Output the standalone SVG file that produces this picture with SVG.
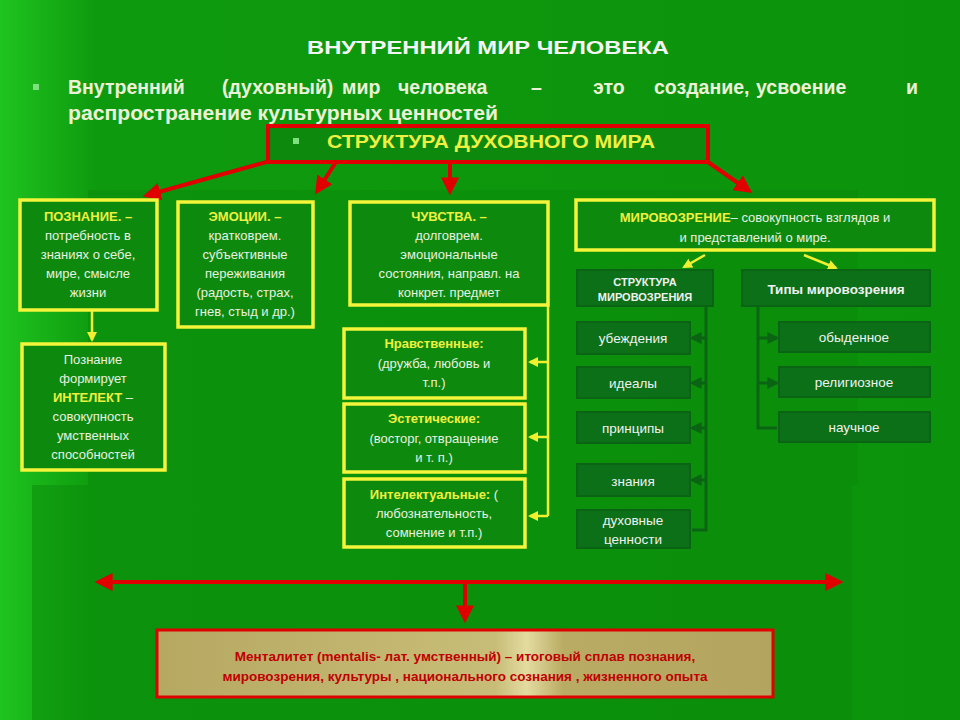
<svg xmlns="http://www.w3.org/2000/svg" width="960" height="720" viewBox="0 0 960 720">
<defs>
<linearGradient id="bg" x1="0" y1="0" x2="1" y2="0"><stop offset="0" stop-color="#1fc41f"/><stop offset="0.1" stop-color="#0e9a0e"/><stop offset="1" stop-color="#0c930c"/></linearGradient>
<linearGradient id="tan" x1="0" y1="0" x2="1" y2="0"><stop offset="0" stop-color="#b6a861"/><stop offset="0.55" stop-color="#c8bd78"/><stop offset="0.6" stop-color="#e3dba0"/><stop offset="0.66" stop-color="#b9ab63"/><stop offset="1" stop-color="#b3a55f"/></linearGradient>
<marker id="ar" viewBox="0 0 10 10" refX="7" refY="5" markerWidth="4.5" markerHeight="4.5" orient="auto-start-reverse"><path d="M0,0 L10,5 L0,10 z" fill="#e00000"/></marker>
<marker id="ay" viewBox="0 0 10 10" refX="8" refY="5" markerWidth="4" markerHeight="4" orient="auto"><path d="M0,0 L10,5 L0,10 z" fill="#f0f030"/></marker>
<marker id="ag" viewBox="0 0 10 10" refX="8" refY="5" markerWidth="4" markerHeight="4" orient="auto"><path d="M0,0 L10,5 L0,10 z" fill="#0a6414"/></marker>
<style>
text{font-family:"Liberation Sans",Arial,sans-serif;text-anchor:middle}
.yb{fill:#0d8a0d;stroke:#f4f43a;stroke-width:3.5}
.db{fill:#0b7018;stroke:#0a6414;stroke-width:2}
.t{fill:#e8f0e0;font-size:13px}
.h{fill:#f0f040;font-size:13px;font-weight:bold}
.w{fill:#f0f0f0;font-size:13.5px}
.wb{fill:#f0f0f0;font-size:11px;font-weight:bold}
.bl{fill:#ecf2d8;font-size:19.5px;font-weight:bold;text-anchor:start}
.rl{stroke:#e00000;stroke-width:4;fill:none}
.yl{stroke:#f0f030;stroke-width:2.5;fill:none}
.gl{stroke:#0a6414;stroke-width:3;fill:none}
</style>
</defs>
<rect width="960" height="720" fill="url(#bg)"/>
<rect x="88" y="190" width="770" height="295" fill="#0a8a0a" opacity="0.5"/>
<rect x="32" y="485" width="820" height="235" fill="#0a8a0a" opacity="0.5"/>
<text x="488" y="54" fill="#f5f5f5" font-size="18" font-weight="bold" textLength="362" lengthAdjust="spacingAndGlyphs">ВНУТРЕННИЙ МИР ЧЕЛОВЕКА</text>
<rect x="33" y="84" width="6" height="6" fill="#7fe07f"/>
<text class="bl" y="94"><tspan x="68">Внутренний</tspan><tspan x="222">(духовный)</tspan><tspan x="342">мир</tspan><tspan x="398">человека</tspan><tspan x="531">–</tspan><tspan x="593">это</tspan><tspan x="654">создание,</tspan><tspan x="756">усвоение</tspan><tspan x="906">и</tspan></text>
<text class="bl" x="68" y="120" textLength="430" lengthAdjust="spacingAndGlyphs">распространение культурных ценностей</text>
<g id="structure"><rect x="268" y="126" width="440" height="36" fill="#0d8a0d" stroke="#e00000" stroke-width="4"/><rect x="293" y="138" width="6" height="6" fill="#7fe07f"/><text x="491" y="148" fill="#f0f040" font-size="18" font-weight="bold" textLength="328" lengthAdjust="spacingAndGlyphs">СТРУКТУРА ДУХОВНОГО МИРА</text></g>
<g id="connectors">
<path class="rl" d="M270,161 L148,195" marker-end="url(#ar)"/>
<path class="rl" d="M336,162 L318,190" marker-end="url(#ar)"/>
<path class="rl" d="M450,162 L450,190" marker-end="url(#ar)"/>
<path class="rl" d="M705,160 L748,190" marker-end="url(#ar)"/>
<path class="yl" d="M92,311 L92,340" marker-end="url(#ay)"/>
<path class="yl" d="M548,306 L548,516"/>
<path class="yl" d="M548,362 L530,362" marker-end="url(#ay)"/>
<path class="yl" d="M548,437 L530,437" marker-end="url(#ay)"/>
<path class="yl" d="M548,516 L530,516" marker-end="url(#ay)"/>
<path class="yl" d="M705,255 L684,267" marker-end="url(#ay)"/>
<path class="yl" d="M804,255 L836,268" marker-end="url(#ay)"/>
<path class="gl" d="M706,306 L706,530 L692,530"/>
<path class="gl" d="M706,338 L692,338" marker-end="url(#ag)"/>
<path class="gl" d="M706,383 L692,383" marker-end="url(#ag)"/>
<path class="gl" d="M706,428 L692,428" marker-end="url(#ag)"/>
<path class="gl" d="M706,480 L692,480" marker-end="url(#ag)"/>
<path class="gl" d="M758,306 L758,428 L777,428"/>
<path class="gl" d="M758,338 L777,338" marker-end="url(#ag)"/>
<path class="gl" d="M758,383 L777,383" marker-end="url(#ag)"/>
<path class="rl" d="M100,582 L838,582" marker-start="url(#ar)" marker-end="url(#ar)"/>
<path class="rl" d="M465,582 L465,618" marker-end="url(#ar)"/>
</g>
<g id="poznanie"><rect class="yb" x="20" y="200" width="137" height="110"/><text class="h" x="88" y="221">ПОЗНАНИЕ. –</text><text class="t" x="88" y="240">потребность в</text><text class="t" x="88" y="259">знаниях о себе,</text><text class="t" x="88" y="278">мире, смысле</text><text class="t" x="88" y="297">жизни</text></g>
<g id="emocii"><rect class="yb" x="178" y="202" width="135" height="125"/><text class="h" x="245" y="221">ЭМОЦИИ. –</text><text class="t" x="245" y="240">кратковрем.</text><text class="t" x="245" y="259">субъективные</text><text class="t" x="245" y="278">переживания</text><text class="t" x="245" y="297">(радость, страх,</text><text class="t" x="245" y="316">гнев, стыд и др.)</text></g>
<g id="chuvstva"><rect class="yb" x="350" y="202" width="198" height="103"/><text class="h" x="449" y="221">ЧУВСТВА. –</text><text class="t" x="449" y="240">долговрем.</text><text class="t" x="449" y="259">эмоциональные</text><text class="t" x="449" y="278">состояния, направл. на</text><text class="t" x="449" y="297">конкрет. предмет</text></g>
<g id="mirovozzrenie"><rect class="yb" x="576" y="200" width="358" height="50"/><text x="755" y="222" class="t"><tspan fill="#f0f040" font-weight="bold">МИРОВОЗРЕНИЕ</tspan>– совокупность взглядов и</text><text class="t" x="755" y="242">и представлений о мире.</text></g>
<g id="intelekt"><rect class="yb" x="22" y="344" width="143" height="126"/><text class="t" x="93" y="364">Познание</text><text class="t" x="93" y="383">формирует</text><text x="93" y="402" class="h">ИНТЕЛЕКТ <tspan fill="#e8f0e0" font-weight="normal">–</tspan></text><text class="t" x="93" y="421">совокупность</text><text class="t" x="93" y="440">умственных</text><text class="t" x="93" y="459">способностей</text></g>
<g id="nravstv"><rect class="yb" x="344" y="329" width="181" height="69"/><text class="h" x="434" y="348">Нравственные:</text><text class="t" x="434" y="368">(дружба, любовь и</text><text class="t" x="434" y="387">т.п.)</text></g>
<g id="estet"><rect class="yb" x="344" y="404" width="181" height="68"/><text class="h" x="434" y="423">Эстетические:</text><text class="t" x="434" y="443">(восторг, отвращение</text><text class="t" x="434" y="462">и т. п.)</text></g>
<g id="intellekt"><rect class="yb" x="344" y="479" width="181" height="68"/><text x="434" y="499" class="h">Интелектуальные: <tspan fill="#e8f0e0" font-weight="normal">(</tspan></text><text class="t" x="434" y="518">любознательность,</text><text class="t" x="434" y="537">сомнение и т.п.)</text></g>
<g id="struct-mv"><rect class="db" x="577" y="270" width="136" height="36"/><text class="wb" x="645" y="286">СТРУКТУРА</text><text class="wb" x="645" y="301">МИРОВОЗРЕНИЯ</text></g>
<g id="types"><rect class="db" x="742" y="270" width="188" height="36"/><text x="836" y="294" fill="#f0f0f0" font-size="13.5" font-weight="bold">Типы мировозрения</text></g>
<g id="ubezhd"><rect class="db" x="577" y="322" width="113" height="32"/><text class="w" x="633" y="343">убеждения</text></g>
<g id="idealy"><rect class="db" x="577" y="367" width="113" height="31"/><text class="w" x="633" y="388">идеалы</text></g>
<g id="principy"><rect class="db" x="577" y="412" width="113" height="31"/><text class="w" x="633" y="433">принципы</text></g>
<g id="znaniya"><rect class="db" x="577" y="464" width="113" height="32"/><text class="w" x="633" y="486">знания</text></g>
<g id="duh"><rect class="db" x="577" y="510" width="113" height="38"/><text class="w" x="633" y="525">духовные</text><text class="w" x="633" y="544">ценности</text></g>
<g id="obyd"><rect class="db" x="779" y="322" width="151" height="30"/><text class="w" x="854" y="342">обыденное</text></g>
<g id="relig"><rect class="db" x="779" y="367" width="151" height="30"/><text class="w" x="854" y="387">религиозное</text></g>
<g id="nauch"><rect class="db" x="779" y="412" width="151" height="30"/><text class="w" x="854" y="432">научное</text></g>
<g id="mentalitet"><rect x="157" y="630" width="616" height="67" fill="url(#tan)" stroke="#e00000" stroke-width="3"/><text x="465" y="661" fill="#c00000" font-size="13.5" font-weight="bold">Менталитет (mentalis- лат. умственный) – итоговый сплав познания,</text><text x="465" y="681" fill="#c00000" font-size="13.5" font-weight="bold">мировозрения, культуры , национального сознания , жизненного опыта</text></g>
</svg>
